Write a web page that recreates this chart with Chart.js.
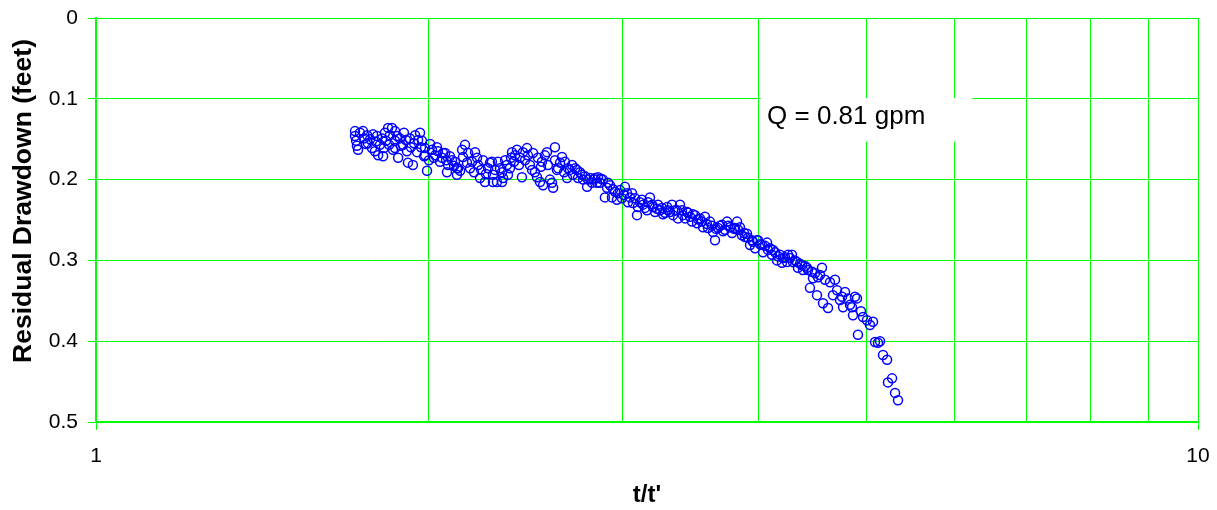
<!DOCTYPE html>
<html>
<head>
<meta charset="utf-8">
<script src="https://cdn.jsdelivr.net/npm/chart.js@4/dist/chart.umd.min.js"></script>
<style>
    body { margin: 0; background: #fff; }
    #wrap { width: 1217px; height: 510px; }
</style>
</head>
<body>
<div id="wrap"><canvas id="chart-recovery" width="1217" height="510"></canvas></div>
<script>
// t/t' readings (x) and residual drawdown in feet (y)
const ratio = [
    1.718, 1.718, 1.722, 1.725, 1.729, 1.736, 1.747, 1.751, 1.758, 1.762,
    1.765, 1.773, 1.780, 1.784, 1.791, 1.795, 1.799, 1.803, 1.810, 1.818,
    1.822, 1.825, 1.829, 1.833, 1.841, 1.845, 1.848, 1.856, 1.860, 1.868,
    1.868, 1.868, 1.876, 1.880, 1.887, 1.891, 1.899, 1.903, 1.911, 1.915,
    1.919, 1.927, 1.931, 1.939, 1.944, 1.948, 1.956, 1.960, 1.968, 1.972,
    1.976, 1.985, 1.989, 1.989, 1.997, 2.005, 2.010, 2.018, 2.026, 2.031,
    2.039, 2.043, 2.052, 2.061, 2.065, 2.074, 2.078, 2.082, 2.087, 2.095,
    2.104, 2.113, 2.117, 2.126, 2.126, 2.131, 2.140,
    2.149, 2.153, 2.162, 2.171, 2.176, 2.185, 2.194, 2.203, 2.208, 2.217,
    2.222, 2.231, 2.236, 2.245, 2.254, 2.259, 2.269, 2.278, 2.287, 2.292,
    2.292, 2.302, 2.311, 2.316, 2.326, 2.336, 2.336, 2.341, 2.351, 2.360,
    2.365, 2.375, 2.380, 2.385, 2.395, 2.400, 2.410, 2.420, 2.425, 2.435,
    2.440, 2.451, 2.461, 2.466, 2.476, 2.487, 2.492, 2.502, 2.513, 2.518,
    2.529, 2.534, 2.539, 2.545, 2.555, 2.566, 2.571, 2.582, 2.593, 2.599,
    2.609, 2.609, 2.620, 2.626, 2.637, 2.648, 2.659, 2.664, 2.676, 2.681,
    2.692, 2.704, 2.709, 2.721, 2.732, 2.738, 2.749, 2.761, 2.767, 2.778,
    2.790, 2.796, 2.807, 2.819, 2.831, 2.837, 2.849, 2.855, 2.866, 2.872,
    2.884, 2.896, 2.909, 2.915, 2.927, 2.939, 2.946, 2.958, 2.970, 2.976,
    2.989, 3.001, 3.014, 3.020, 3.033, 3.039, 3.052, 3.065, 3.071, 3.084,
    3.097, 3.103, 3.116, 3.129, 3.136, 3.149, 3.162, 3.169, 3.182, 3.196,
    3.202, 3.216, 3.229, 3.236, 3.250, 3.263, 3.270, 3.284, 3.298, 3.304,
    3.318, 3.332, 3.339, 3.353, 3.367, 3.374,
    3.388, 3.402, 3.409, 3.424, 3.438, 3.445, 3.460, 3.474, 3.481, 3.496,
    3.511, 3.518, 3.532, 3.547, 3.555, 3.569, 3.584, 3.592, 3.607, 3.622,
    3.630, 3.645, 3.653, 3.668, 3.683, 3.699, 3.707, 3.722, 3.738, 3.746,
    3.761, 3.777, 3.793, 3.801, 3.817, 3.825, 3.840, 3.856, 3.873, 3.881,
    3.897, 3.905, 3.922, 3.938, 3.946, 3.963, 3.979, 3.988, 4.005, 4.021,
    4.030, 4.047, 4.064, 4.072, 4.089, 4.106, 4.115, 4.132, 4.149, 4.158,
    4.175, 4.193, 4.202, 4.219, 4.237,
    4.246, 4.263, 4.281, 4.290, 4.308, 4.326, 4.335, 4.353, 4.372, 4.381,
    4.399, 4.417, 4.427, 4.445, 4.464, 4.473, 4.492, 4.511, 4.520, 4.539,
    4.558, 4.568, 4.587, 4.616, 4.635, 4.664, 4.684, 4.704, 4.733, 4.753,
    4.763, 4.783, 4.813, 4.833, 4.853, 4.863, 4.883, 4.904, 4.914, 4.945,
    4.966, 5.007, 5.039, 5.071, 5.092, 5.124, 5.146, 5.178, 5.222, 5.232,
    5.277, 5.310, 5.343
];

const drawdown = [
    0.140, 0.146, 0.152, 0.158, 0.163, 0.142, 0.140, 0.149, 0.156, 0.145,
    0.155, 0.150, 0.161, 0.144, 0.165, 0.153, 0.146, 0.170, 0.157, 0.149,
    0.171, 0.161, 0.142, 0.152, 0.136, 0.157, 0.145, 0.136, 0.163, 0.140,
    0.152, 0.161, 0.146, 0.173, 0.149, 0.158, 0.157, 0.142, 0.151, 0.165,
    0.179, 0.149, 0.160, 0.182, 0.155, 0.145, 0.166, 0.151, 0.142, 0.160,
    0.152, 0.171, 0.161, 0.170, 0.189, 0.176, 0.156, 0.163, 0.173, 0.170,
    0.160, 0.165, 0.178, 0.173, 0.167, 0.167, 0.176, 0.191, 0.182, 0.171,
    0.176, 0.183, 0.178, 0.186, 0.194, 0.186, 0.189,
    0.163, 0.172, 0.157, 0.179, 0.167, 0.186, 0.178, 0.191, 0.166, 0.173,
    0.182, 0.198, 0.188, 0.176, 0.203, 0.193, 0.186, 0.179, 0.178, 0.194,
    0.203, 0.188, 0.203, 0.178, 0.186, 0.191, 0.203, 0.198, 0.176, 0.182,
    0.194, 0.186, 0.173, 0.166, 0.178, 0.170, 0.163, 0.182, 0.173, 0.197,
    0.166, 0.176, 0.161, 0.170, 0.182, 0.188, 0.167, 0.191, 0.197, 0.173,
    0.203, 0.184, 0.178, 0.207, 0.170, 0.166, 0.182, 0.200, 0.204, 0.210,
    0.160, 0.176, 0.188, 0.186, 0.179, 0.172, 0.191, 0.178, 0.198, 0.186,
    0.188, 0.182, 0.194, 0.186, 0.188, 0.198, 0.191, 0.194, 0.200, 0.196,
    0.209, 0.200, 0.198, 0.204, 0.200, 0.198, 0.204, 0.197, 0.204, 0.199,
    0.200, 0.222, 0.210, 0.204, 0.207, 0.222, 0.212, 0.215, 0.225, 0.217,
    0.213, 0.223, 0.219, 0.209, 0.217, 0.228, 0.222, 0.217, 0.229, 0.223,
    0.244, 0.234, 0.228, 0.225, 0.231, 0.235, 0.238, 0.228, 0.222, 0.231,
    0.234, 0.240, 0.236, 0.231, 0.238, 0.235, 0.243, 0.241, 0.234, 0.238,
    0.240, 0.231, 0.244, 0.238, 0.238, 0.248,
    0.231, 0.238, 0.244, 0.248, 0.240, 0.241, 0.246, 0.252, 0.243, 0.244,
    0.254, 0.249, 0.248, 0.252, 0.259, 0.246, 0.255, 0.260, 0.252, 0.257,
    0.265, 0.275, 0.261, 0.260, 0.257, 0.256, 0.264, 0.262, 0.252, 0.257,
    0.259, 0.266, 0.261, 0.260, 0.252, 0.262, 0.259, 0.269, 0.266, 0.271,
    0.267, 0.272, 0.281, 0.275, 0.277, 0.285, 0.275, 0.275, 0.280, 0.281,
    0.290, 0.282, 0.278, 0.287, 0.285, 0.293, 0.287, 0.290, 0.300, 0.295,
    0.293, 0.303, 0.297, 0.296, 0.302,
    0.293, 0.297, 0.293, 0.302, 0.300, 0.302, 0.309, 0.304, 0.306, 0.312,
    0.307, 0.309, 0.312, 0.334, 0.314, 0.322, 0.316, 0.343, 0.321, 0.318,
    0.309, 0.353, 0.324, 0.359, 0.327, 0.343, 0.324, 0.337, 0.349, 0.345,
    0.358, 0.339, 0.347, 0.355, 0.358, 0.368, 0.345, 0.347, 0.392, 0.363,
    0.370, 0.374, 0.380, 0.376, 0.401, 0.402, 0.400, 0.417, 0.423, 0.451,
    0.446, 0.464, 0.473
];

const xTicks = [1, 2, 3, 4, 5, 6, 7, 8, 9, 10];
const xLabels = [1, 10];
const yTicks = [0, 0.1, 0.2, 0.3, 0.4, 0.5];
const noteText = "Q = 0.81 gpm";

const GREEN = "#00ff00";
const FONT = "'Liberation Sans', Arial, sans-serif";

// vertical grid, white text box over it, and the y title
const notePlugin = {
    id: "note",
    beforeDatasetsDraw(chart) {
        const { ctx, scales, chartArea } = chart;
        ctx.save();
        ctx.strokeStyle = GREEN;
        ctx.lineWidth = 1;
        xTicks.slice(1).forEach(v => {
            // snap to an even pixel column so the thin line stays crisp
            const px = 2 * Math.round((scales.x.getPixelForValue(v) - 0.5) / 2) + 0.5;
            ctx.beginPath();
            ctx.moveTo(px, chartArea.top);
            ctx.lineTo(px, chartArea.bottom);
            ctx.stroke();
        });

        const x0 = scales.x.getPixelForValue(4.0) + 1;
        const x1 = scales.x.getPixelForValue(6.24);
        const y0 = scales.y.getPixelForValue(0.099);
        const y1 = scales.y.getPixelForValue(0.153);
        ctx.fillStyle = "#fff";
        ctx.fillRect(x0, y0, x1 - x0, y1 - y0);
        ctx.fillStyle = "#000";
        ctx.font = "26px " + FONT;
        ctx.textAlign = "left";
        ctx.textBaseline = "middle";
        ctx.fillText(noteText, scales.x.getPixelForValue(4.064), scales.y.getPixelForValue(0.1225));
        ctx.restore();
    },
    afterDraw(chart) {
        const { ctx, chartArea } = chart;
        ctx.save();
        ctx.translate(24, (chartArea.top + chartArea.bottom) / 2 - 19);
        ctx.rotate(-Math.PI / 2);
        ctx.fillStyle = "#000";
        ctx.font = "bold 26.5px " + FONT;
        ctx.textAlign = "center";
        ctx.textBaseline = "middle";
        ctx.fillText("Residual Drawdown (feet)", 0, 0);
        ctx.restore();
    }
};

const points = ratio.map((r, i) => ({ x: r, y: drawdown[i] }));

new Chart(document.getElementById("chart-recovery"), {
    type: "scatter",
    data: {
        datasets: [{
            data: points,
            showLine: false,
            pointStyle: "circle",
            pointRadius: 4.5,
            pointBorderWidth: 1.5,
            borderColor: "#0000ff",
            backgroundColor: "rgba(0,0,0,0)"
        }]
    },
    options: {
        responsive: false,
        animation: false,
        events: [],
        layout: { padding: { left: 0, top: 18, right: 19, bottom: 0 } },
        plugins: { legend: { display: false }, tooltip: { enabled: false } },
        scales: {
            x: {
                type: "logarithmic",
                min: 1,
                max: 10,
                afterBuildTicks: scale => { scale.ticks = xTicks.map(v => ({ value: v })); },
                afterFit: scale => {
                    scale.height = 88;
                    scale.paddingLeft = 0;
                    scale.paddingRight = 0;
                },
                grid: {
                    drawOnChartArea: false,
                    color: GREEN,
                    lineWidth: 1,
                    tickLength: 8,
                    tickColor: c => xLabels.includes(c.tick && c.tick.value) ? GREEN : "rgba(0,0,0,0)"
                },
                border: { display: true, color: GREEN, width: 2 },
                ticks: {
                    autoSkip: false,
                    maxRotation: 0,
                    padding: 14,
                    color: "#000",
                    font: { size: 21, family: FONT },
                    callback: v => xLabels.includes(v) ? String(v) : ""
                },
                title: {
                    display: true,
                    text: "t/t'",
                    color: "#000",
                    font: { size: 24, weight: "bold", family: FONT },
                    padding: { top: 0, bottom: 0 }
                }
            },
            y: {
                reverse: true,
                min: 0,
                max: 0.5,
                afterBuildTicks: scale => { scale.ticks = yTicks.map(v => ({ value: v })); },
                afterFit: scale => {
                    scale.width = 96;
                    scale.paddingTop = 0;
                    scale.paddingBottom = 0;
                },
                grid: { color: GREEN, lineWidth: 1, tickLength: 8, tickColor: GREEN },
                border: { display: true, color: GREEN, width: 2 },
                ticks: {
                    padding: 10,
                    color: "#000",
                    font: { size: 21, family: FONT },
                    callback: v => String(v)
                }
            }
        }
    },
    plugins: [notePlugin]
});
</script>
</body>
</html>
